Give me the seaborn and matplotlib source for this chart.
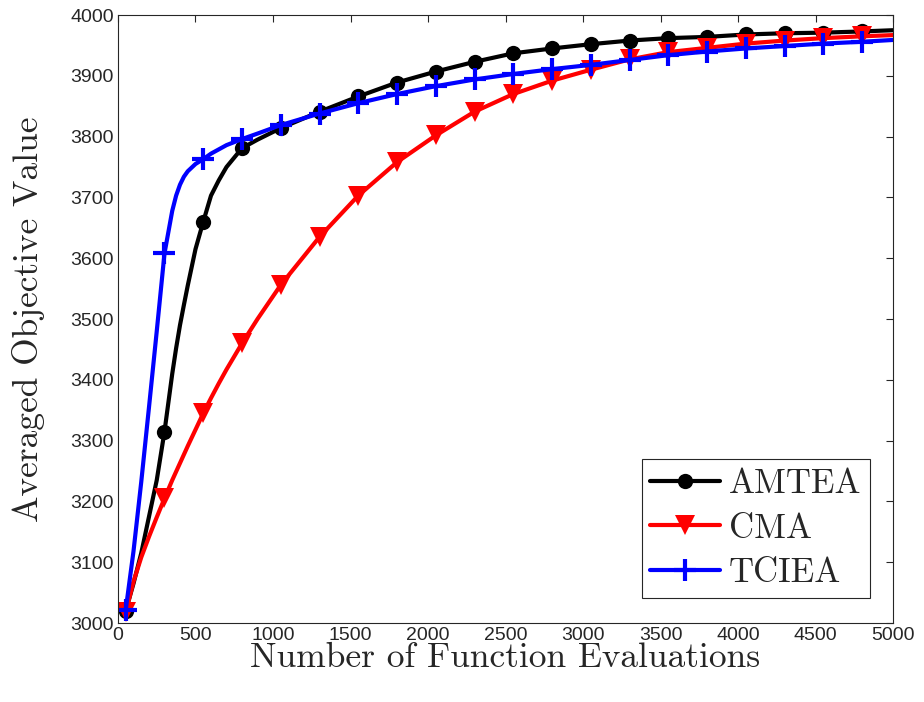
import numpy as np
import pandas as pd
import matplotlib
matplotlib.use("Agg")
import matplotlib.pyplot as plt
import seaborn as sns

evals = [50, 100, 150, 200, 250, 300, 350, 375, 400, 425, 450, 500, 550, 600,
         650, 700, 800, 900, 1050, 1300, 1550, 1800, 2050, 2300, 2550, 2800,
         3050, 3300, 3550, 3800, 4050, 4300, 4550, 4800, 5000]

amtea = [3020, 3065, 3115, 3175, 3235, 3315, 3410, 3452, 3490, 3523, 3555, 3615,
         3660, 3703, 3728, 3750, 3781, 3795, 3814, 3841, 3866, 3889, 3907, 3923,
         3937, 3945, 3952, 3958, 3962, 3964, 3968, 3970, 3971, 3973, 3975]

cma = [3018, 3068, 3108, 3142, 3174, 3205, 3235, 3249, 3263, 3277, 3291, 3318,
       3345, 3370, 3394, 3417, 3460, 3500, 3556, 3635, 3703, 3758, 3802, 3841,
       3870, 3892, 3910, 3927, 3939, 3946, 3953, 3958, 3962, 3965, 3967]

tciea = [3022, 3118, 3232, 3355, 3480, 3608, 3678, 3703, 3721, 3734, 3743, 3755,
         3763, 3772, 3779, 3786, 3796, 3805, 3819, 3838, 3855, 3870, 3883, 3894,
         3903, 3911, 3918, 3926, 3934, 3940, 3945, 3949, 3953, 3956, 3959]

# markers every 250 evaluations starting at 50
mark_idx = [i for i, e in enumerate(evals) if (e - 50) % 250 == 0 and e < 5000]

sns.set_theme(style="white")
plt.rcParams["font.family"] = ["Liberation Sans", "DejaVu Sans"]

fig = plt.figure(figsize=(9.24, 7.02), dpi=100)
ax = fig.add_axes([0.1277, 0.1125, 0.8388, 0.8661])

df = pd.DataFrame({"evals": evals, "AMTEA": amtea, "CMA": cma, "TCIEA": tciea})

sns.lineplot(data=df, x="evals", y="AMTEA", ax=ax, color="black", linewidth=3,
             linestyle="-", marker="o", markersize=11, markeredgewidth=0,
             markeredgecolor="black", markevery=mark_idx, label="AMTEA")
sns.lineplot(data=df, x="evals", y="CMA", ax=ax, color="red", linewidth=3,
             linestyle="-", marker="v", markersize=14, markeredgewidth=0,
             markeredgecolor="red", markevery=mark_idx, label="CMA")
sns.lineplot(data=df, x="evals", y="TCIEA", ax=ax, color="blue", linewidth=3,
             linestyle="-", marker="+", markersize=16, markeredgewidth=3,
             markeredgecolor="blue", markevery=mark_idx, label="TCIEA")

ax.set_xlim(0, 5000)
ax.set_ylim(3000, 4000)
ax.set_xticks(np.arange(0, 5001, 500))
ax.set_yticks(np.arange(3000, 4001, 100))

for s in ax.spines.values():
    s.set_color("#262626")
    s.set_linewidth(0.8)
ax.tick_params(direction="in", length=5, width=0.8, color="#262626",
               top=True, right=True, labelsize=14, labelcolor="#262626", pad=3)

ax.set_xlabel("Number of Function Evaluations", family="cmr10", fontsize=25.5,
              color="#262626", labelpad=-1)
ax.set_ylabel("Averaged Objective Value", family="cmr10", fontsize=25.5,
              color="#262626")
ax.yaxis.set_label_coords(-0.094, 0.5)

leg = ax.legend(loc="lower right", bbox_to_anchor=(0.97, 0.041),
                prop={"family": "cmr10", "size": 25}, frameon=True,
                fancybox=False, framealpha=1, edgecolor="#262626",
                handlelength=2.0, handletextpad=0.25, borderpad=0.25,
                labelspacing=0.38, borderaxespad=0)
leg.get_frame().set_linewidth(0.8)

fig.savefig("out.png", dpi=100)
